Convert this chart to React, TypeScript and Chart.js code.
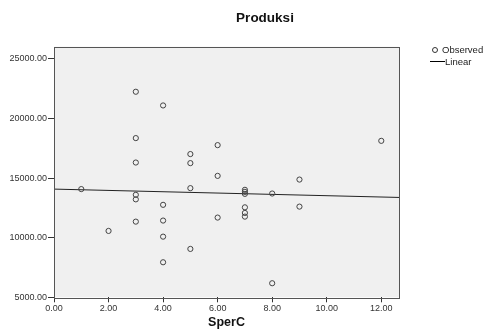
import React, { useEffect, useRef } from "react";
import { Chart, registerables } from "chart.js";

Chart.register(...registerables);

const obsX = [1, 2, 3, 3, 3, 3, 3, 3, 4, 4, 4, 4, 4, 5, 5, 5, 5, 6, 6, 6, 7, 7, 7, 7, 7, 7, 8, 8, 9, 9, 12];
const obsY = [14080, 10570, 22250, 18360, 16310, 13600, 13220, 11350, 21100, 12760, 11440, 10090, 7940, 17020, 16260, 14160, 9060, 17770, 15190, 11690, 14020, 13850, 13680, 12550, 12080, 11770, 13710, 6180, 14880, 12610, 18130];
const lineX = [0, 12.65];
const lineY = [14080, 13380];
const xTicks = [0, 2, 4, 6, 8, 10, 12];
const yTicks = [5000, 10000, 15000, 20000, 25000];
const xMin = 0;
const xMax = 12.65;
const yMin = 5000;
const yMax = 26030;

const FONT = "'Liberation Sans', Arial, sans-serif";

const decor = {
  id: "decor",
  beforeDraw(chart: any) {
    const { ctx, chartArea: a } = chart;
    ctx.save();
    ctx.fillStyle = "#ffffff";
    ctx.fillRect(0, 0, chart.width, chart.height);
    ctx.fillStyle = "#f0f0f0";
    ctx.fillRect(a.left, a.top, a.right - a.left, a.bottom - a.top);
    ctx.restore();
  },
  afterDraw(chart: any) {
    const { ctx, chartArea: a } = chart;
    ctx.save();
    ctx.strokeStyle = "#555";
    ctx.lineWidth = 1;
    ctx.strokeRect(Math.round(a.left) + 0.5, Math.round(a.top) + 0.5, Math.round(a.right - a.left), Math.round(a.bottom - a.top));
    // title
    ctx.fillStyle = "#111";
    ctx.font = `bold 13.5px ${FONT}`;
    ctx.textAlign = "center";
    ctx.textBaseline = "middle";
    ctx.fillText("Produksi", 265, 18);
    // x axis title
    ctx.font = `bold 12.5px ${FONT}`;
    ctx.fillText("SperC", (a.left + a.right) / 2, 323);
    // legend
    ctx.font = `9.5px ${FONT}`;
    ctx.textAlign = "left";
    ctx.fillStyle = "#222";
    ctx.strokeStyle = "#333";
    ctx.beginPath();
    ctx.arc(435, 50, 2.5, 0, Math.PI * 2);
    ctx.stroke();
    ctx.fillText("Observed", 442, 50);
    ctx.strokeStyle = "#000";
    ctx.beginPath();
    ctx.moveTo(430, 61.5);
    ctx.lineTo(445, 61.5);
    ctx.stroke();
    ctx.fillText("Linear", 445, 62);
    ctx.restore();
  },
};

export default function App() {
  const ref = useRef<HTMLCanvasElement | null>(null);
  useEffect(() => {
    document.body.style.margin = "0";
    const canvas = ref.current;
    if (!canvas) return;
    const chart = new Chart(canvas, {
      type: "scatter",
      data: {
        datasets: [
          {
            label: "Observed",
            data: obsX.map((x, i) => ({ x, y: obsY[i] })),
            pointStyle: "circle",
            pointRadius: 2.6,
            pointBorderWidth: 1,
            pointBorderColor: "#444",
            pointBackgroundColor: "rgba(0,0,0,0)",
            showLine: false,
          },
          {
            label: "Linear",
            data: lineX.map((x, i) => ({ x, y: lineY[i] })),
            showLine: true,
            pointRadius: 0,
            borderColor: "#222",
            borderWidth: 1,
          },
        ],
      },
      options: {
        responsive: false,
        animation: false,
        devicePixelRatio: 1,
        layout: { padding: { left: 0, top: 46.7, right: 91, bottom: 0 } },
        plugins: {
          legend: { display: false },
          title: { display: false },
          tooltip: { enabled: false },
        },
        scales: {
          x: {
            type: "linear",
            min: xMin,
            max: xMax,
            afterBuildTicks: (s: any) => {
              s.ticks = xTicks.map((v) => ({ value: v }));
            },
            afterFit: (s: any) => {
              s.height = 332 - 297.3;
            },
            border: { display: false },
            grid: { drawOnChartArea: false, drawTicks: true, tickLength: 5, color: "#333" },
            ticks: {
              padding: 1,
              maxRotation: 0,
              color: "#333",
              font: { family: FONT, size: 9 },
              callback: (v: any) => Number(v).toFixed(2),
            },
          },
          y: {
            type: "linear",
            min: yMin,
            max: yMax,
            afterBuildTicks: (s: any) => {
              s.ticks = yTicks.map((v) => ({ value: v }));
            },
            afterFit: (s: any) => {
              s.width = 54;
            },
            border: { display: false },
            grid: { drawOnChartArea: false, drawTicks: true, tickLength: 6, color: "#333" },
            ticks: {
              padding: 1,
              color: "#333",
              font: { family: FONT, size: 9 },
              callback: (v: any) => Number(v).toFixed(2),
            },
          },
        },
      },
      plugins: [decor],
    } as any);
    return () => chart.destroy();
  }, []);
  return <canvas ref={ref} width={490} height={332} style={{ display: "block", width: 490, height: 332 }} />;
}
